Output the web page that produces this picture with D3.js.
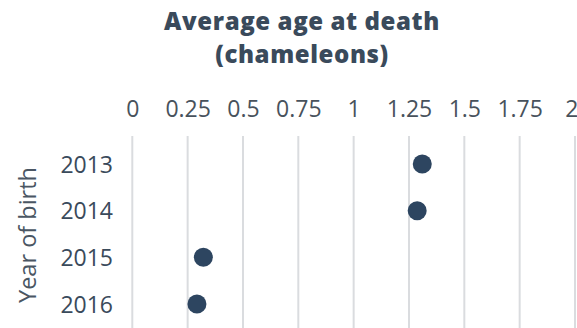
<!DOCTYPE html>
<html>
<head>
<meta charset="utf-8">
<script src="https://cdn.jsdelivr.net/npm/d3@7"></script>
<style>
  html, body { margin: 0; padding: 0; background: #ffffff; }
  svg { display: block; }
  text { font-family: "Open Sans", "Noto Sans", sans-serif; }
</style>
</head>
<body>
<svg id="chart" width="577" height="328"></svg>
<script>
const titleLines = ["Average age at death", "(chameleons)"];
const yAxisTitle = "Year of birth";
const years = ["2013", "2014", "2015", "2016"];
const ages = [1.31, 1.287, 0.321, 0.292];
const xTicks = [0, 0.25, 0.5, 0.75, 1, 1.25, 1.5, 1.75, 2];
const xTickLabels = ["0", "0.25", "0.5", "0.75", "1", "1.25", "1.5", "1.75", "2"];

const svg = d3.select("#chart");
const W = 577, H = 328;

const x = d3.scaleLinear().domain([0, 2]).range([132.3, 575]);
const y = d3.scalePoint().domain(years).range([164, 304]);

const textColor = "#3a4a5b";
const dotColor = "#2d4560";

// Title (two separate lines)
svg.append("g").selectAll("text").data(titleLines).join("text")
  .attr("x", 302).attr("y", (d, i) => 30 + i * 33)
  .attr("text-anchor", "middle")
  .attr("font-size", 24).attr("font-weight", 800)
  .attr("letter-spacing", 0.6)
  .attr("fill", textColor)
  .text(d => d);

// Gridlines
svg.append("g").selectAll("line").data(xTicks).join("line")
  .attr("x1", d => x(d)).attr("x2", d => x(d))
  .attr("y1", 136).attr("y2", H)
  .attr("stroke", "#dadcdf").attr("stroke-width", 2);

// Top axis tick labels
const xAxis = d3.axisTop(x).tickValues(xTicks)
  .tickFormat((d, i) => xTickLabels[i]).tickSize(0).tickPadding(0);
const gx = svg.append("g").attr("transform", "translate(0,117)").call(xAxis);
gx.select(".domain").remove();
gx.selectAll("text")
  .attr("font-size", 23).attr("fill", "#48525c")
  .attr("font-family", "\"Open Sans\", sans-serif")
  .attr("dy", 0);
// keep the last label inside the frame
gx.selectAll(".tick").filter((d, i, n) => i === n.length - 1).select("text")
  .attr("text-anchor", "end").attr("x", W - 575 + 1);

// Left axis labels
const yAxis = d3.axisLeft(y).tickSize(0).tickPadding(0);
const gy = svg.append("g").attr("transform", "translate(113,0)").call(yAxis);
gy.select(".domain").remove();
gy.selectAll("text")
  .attr("font-size", 23).attr("fill", textColor)
  .attr("font-family", "\"Open Sans\", sans-serif")
  .attr("dy", "0.35em");

// Y axis title
svg.append("text")
  .attr("transform", "translate(36,235) rotate(-90)")
  .attr("text-anchor", "middle")
  .attr("font-size", 23.5).attr("fill", "#4a5663")
  .text(yAxisTitle);

// Dots
svg.append("g").selectAll("circle").data(years).join("circle")
  .attr("cx", (d, i) => x(ages[i]))
  .attr("cy", d => y(d))
  .attr("r", 9.5)
  .attr("fill", dotColor);
</script>
</body>
</html>
